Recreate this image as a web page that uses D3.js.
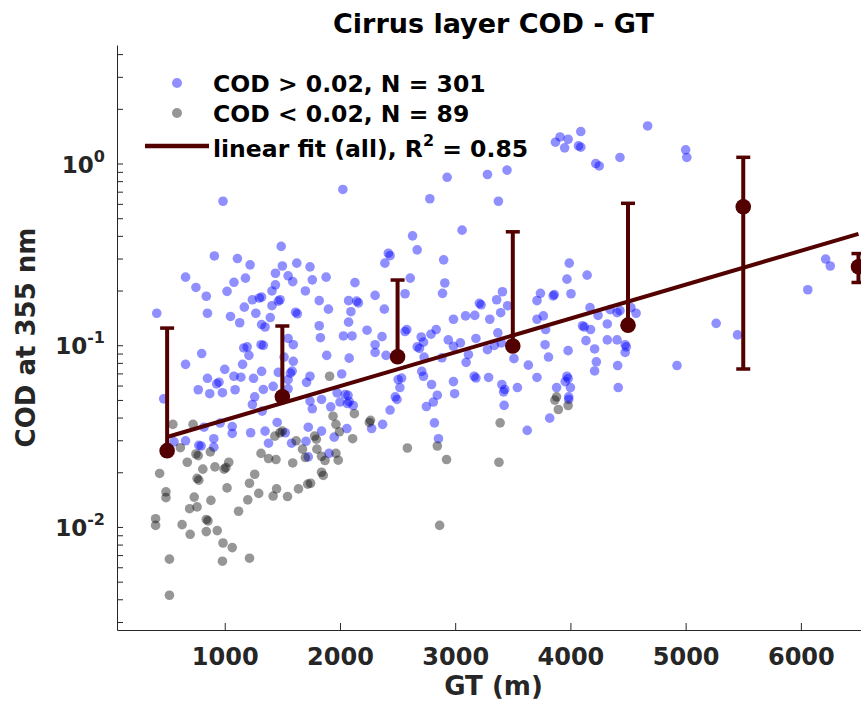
<!DOCTYPE html>
<html>
<head>
<meta charset="utf-8">
<script src="https://cdn.jsdelivr.net/npm/d3@7"></script>
<style>
  body { margin: 0; background: #fff; }
  svg { display: block; }
  text { font-family: "DejaVu Sans", sans-serif; font-weight: bold; }
</style>
</head>
<body>
<svg id="chart" width="861" height="701"></svg>
<script>
// Cloud optical depth vs. geometric thickness, cirrus layers
// [GT (m), COD at 355 nm]
const highPoints = [
  [985,0.62],[2025,0.72],[2930,0.84],[3280,0.87],[2780,0.64],[3375,0.62],[2630,0.40],[3060,0.43],[3450,0.92],
  [3870,1.31],[3910,1.40],[3980,1.36],[4090,1.50],[3950,1.22],[4070,1.25],[4090,1.23],[4220,1.00],[4250,0.97],
  [4430,1.08],[4670,1.61],[5000,1.19],[5010,1.08],
  [910,0.31],[1110,0.30],[1220,0.277],[660,0.237],[750,0.208],[1080,0.222],[1180,0.234],[840,0.186],[1020,0.198],
  [1240,0.178],[1300,0.182],[1170,0.162],[410,0.150],[850,0.150],[1050,0.144],[1130,0.133],[1270,0.150],[1320,0.130],
  [800,0.090],[1165,0.0966],[1195,0.098],[1210,0.088],[660,0.0785],[1155,0.0785],[1315,0.1007],[1000,0.0737],
  [850,0.0658],[1080,0.0675],[1140,0.0667],[1250,0.0658],[930,0.0613],[950,0.0626],[770,0.0569],[870,0.0541],
  [980,0.0548],[1090,0.0569],[1260,0.052],[470,0.0507],
  [1490,0.350],[2420,0.321],[2435,0.311],[2390,0.283],[1625,0.283],[1500,0.273],[1740,0.270],[1440,0.249],[1550,0.241],
  [1590,0.224],[1760,0.229],[1880,0.237],[1440,0.215],[1410,0.199],[1700,0.199],[2130,0.221],[1320,0.184],[1480,0.178],
  [1465,0.175],[1410,0.165],[1820,0.176],[2075,0.176],[2145,0.175],[2160,0.171],[2305,0.188],[1615,0.152],[1630,0.149],
  [1900,0.158],[2095,0.153],[2385,0.158],[1395,0.142],[1350,0.126],[1820,0.128],[2075,0.134],[2235,0.121],[2030,0.1125],
  [2105,0.1125],[1830,0.110],[1550,0.109],[1595,0.1007],[1335,0.0998],[2365,0.1115],[2305,0.1007],[2305,0.0913],
  [1885,0.0879],[2080,0.0849],[2565,0.119],[2400,0.0879],[1515,0.0861],[1595,0.0816],[1465,0.0709],[1570,0.0702],
  [1585,0.072],[1550,0.0647],[1740,0.0675],[1710,0.0625],[2015,0.0695],[1420,0.0594],[1335,0.0571],[1550,0.0576],
  [2505,0.0647],[2520,0.0585],[2480,0.052],[1975,0.0547],[2045,0.0536],[2070,0.053],[1320,0.0718],
  [2670,0.335],[2900,0.295],[2910,0.220],[2890,0.193],[2565,0.192],[2610,0.234],[3210,0.170],[3225,0.167],[3360,0.178],
  [3410,0.197],[3455,0.165],[3710,0.176],[3740,0.193],[3850,0.187],[3860,0.19],[2985,0.139],[3090,0.145],[3170,0.146],
  [3300,0.139],[3395,0.151],[3710,0.139],[3765,0.145],[3785,0.122],[2580,0.122],[2835,0.122],[2790,0.115],[2705,0.111],
  [2725,0.104],[2670,0.098],[2690,0.096],[2940,0.107],[2985,0.0987],[3045,0.103],[3180,0.109],[3370,0.117],[3280,0.0945],
  [3340,0.0998],[3400,0.103],[3115,0.0888],[3095,0.0805],[2885,0.0853],[2730,0.0861],[3780,0.1007],[3810,0.0861],
  [3510,0.0844],[3635,0.0777],[3710,0.0665],[2535,0.066],[2725,0.0675],[2710,0.0718],[2795,0.0608],[2985,0.0631],
  [3165,0.0675],[3180,0.066],[3290,0.0665],[3405,0.0608],[3420,0.0554],[3430,0.0571],[3540,0.0585],[2995,0.0541],
  [2845,0.0531],[3880,0.0585],
  [3990,0.283],[3970,0.231],[4145,0.243],[4005,0.192],[4170,0.161],[4240,0.146],[4345,0.157],[4405,0.151],[4430,0.155],
  [4525,0.161],[4570,0.150],[4105,0.128],[4120,0.126],[4175,0.122],[4320,0.131],[4135,0.106],[4320,0.107],[4405,0.107],
  [4475,0.1007],[4485,0.098],[4475,0.0913],[3980,0.0934],[4210,0.0954],[4225,0.0811],[4210,0.0722],[4410,0.0773],
  [4415,0.0585],[4925,0.0773],[5265,0.132],[5450,0.114],[6060,0.202],[6215,0.298],[6255,0.273],[3970,0.0675],
  [3980,0.0655],[3955,0.0631],[4000,0.0585],[3985,0.052],
  [560,0.0294],[660,0.0298],[775,0.0281],[795,0.0279],[820,0.0354],[905,0.0306],[905,0.0275],[960,0.0373],[1065,0.0357],
  [1065,0.0327],[1225,0.033],[1240,0.0472],[1325,0.0434],
  [1740,0.0493],[1840,0.0503],[1760,0.0447],[1920,0.0458],[2000,0.0487],[2065,0.0478],[2080,0.049],[2115,0.0466],
  [2495,0.0503],[2435,0.044],[1455,0.0376],[1350,0.0337],[1525,0.033],[1725,0.0354],[1840,0.0337],[2060,0.0348],
  [2275,0.0348],[2370,0.0367],[1380,0.0289],[1580,0.0289],[1705,0.0296],[1950,0.0312],[1905,0.0254],[1725,0.0243],
  [2750,0.046],[2810,0.0487],[3425,0.0467],[2820,0.0374],[2855,0.0306],[3625,0.034],[3820,0.0397],[3985,0.0503]
];

const lowPoints = [
  [550,0.0367],[725,0.0367],[615,0.0273],[750,0.0252],[770,0.0247],[675,0.0227],[435,0.0197],[810,0.0208],[760,0.0185],
  [775,0.0181],[915,0.0214],[995,0.0208],[1010,0.0212],[1035,0.0227],[1020,0.0164],[875,0.0259],[1260,0.0195],
  [1215,0.0174],[1295,0.0153],[490,0.0156],[490,0.0145],[735,0.0146],[880,0.014],[695,0.0126],[760,0.0129],
  [1200,0.0141],[1120,0.0122],[400,0.0111],[400,0.0102],[630,0.0103],[840,0.011],[855,0.0108],[935,0.00955],
  [840,0.00943],[700,0.00911],[985,0.00816],[1065,0.0077],[520,0.00665],[980,0.00648],[1215,0.00673],[520,0.00421],
  [1315,0.0254],
  [1940,0.0407],[2125,0.042],[1965,0.0367],[1995,0.0334],[2255,0.0376],[2265,0.0386],[2110,0.0306],[1480,0.033],
  [1500,0.0337],[1435,0.0316],[1780,0.0316],[1795,0.0304],[1620,0.0298],[1675,0.0268],[1800,0.0268],[1700,0.0241],
  [1840,0.0245],[1870,0.0232],[1965,0.0254],[1985,0.0233],[1380,0.0238],[1445,0.0235],[1590,0.0225],[1840,0.02],
  [1855,0.0192],[1420,0.0148],[1450,0.0162],[1545,0.0147],[1640,0.0162],[1720,0.0172],[1745,0.0174],[2585,0.0272],
  [1910,0.0675],
  [2845,0.0279],[2925,0.0235],[3390,0.0374],[3380,0.0227],[2865,0.0102],[3895,0.0443],[3980,0.0466],[3865,0.0499],
  [3880,0.052]
];

// Binned statistics (1000 m bins): mean and standard deviation of COD
const binCenters = [500, 1500, 2500, 3500, 4500, 5500, 6500];
const binMeans   = [0.0263, 0.0521, 0.0865, 0.099, 0.129, 0.578, 0.2705];
const binStds    = [0.098, 0.0755, 0.142, 0.322, 0.475, 0.504, 0.049];

// Linear fit of log10(COD) against GT
const fitIntercept = -1.598;
const fitSlope = 1.863e-4;
const fitRange = [500, 6500];

const xTicks = [1000, 2000, 3000, 4000, 5000, 6000];
const yMajorExps = [-2, -1, 0];

const legendLabels = ["COD > 0.02, N = 301", "COD < 0.02, N = 89", "linear fit (all), R"];

const titleText = "Cirrus layer COD - GT";
const xLabelText = "GT (m)";
const yLabelText = "COD at 355 nm";

// ---- layout ----
const W = 861, H = 701;
const plotL = 117, plotR = 870, plotT = 45, plotB = 630;
const axisColor = "#262626";
const fitColor = "#520000";

const svg = d3.select("#chart");

const x = d3.scaleLinear().domain([65, 6600]).range([plotL, plotR]);
const y = d3.scaleLog().domain([0.00271, 4.49]).range([plotB, plotT]);

svg.append("defs").append("clipPath").attr("id", "plotClip")
  .append("rect").attr("x", plotL).attr("y", plotT)
  .attr("width", plotR - plotL).attr("height", plotB - plotT);

const plot = svg.append("g").attr("clip-path", "url(#plotClip)");

// scatter
plot.append("g").selectAll("circle").data(highPoints).join("circle")
  .attr("cx", d => x(d[0])).attr("cy", d => y(d[1])).attr("r", 4.8)
  .attr("fill", "#0000ff").attr("fill-opacity", 0.44);

plot.append("g").selectAll("circle").data(lowPoints).join("circle")
  .attr("cx", d => x(d[0])).attr("cy", d => y(d[1])).attr("r", 4.8)
  .attr("fill", "#000000").attr("fill-opacity", 0.41);

// fit line
const fitLine = d3.line().x(d => x(d)).y(d => y(Math.pow(10, fitIntercept + fitSlope * d)));
plot.append("path").datum(fitRange).attr("d", fitLine)
  .attr("fill", "none").attr("stroke", fitColor).attr("stroke-width", 4);

// error bars
const eb = plot.append("g").selectAll("g").data(binCenters.map((c, i) => ({
  c, m: binMeans[i], s: binStds[i]
}))).join("g");
const capHalf = 7;
eb.append("line")
  .attr("x1", d => x(d.c)).attr("x2", d => x(d.c))
  .attr("y1", d => y(d.m + d.s))
  .attr("y2", d => d.m - d.s > 0 ? y(d.m - d.s) : y(d.m))
  .attr("stroke", fitColor).attr("stroke-width", 4);
eb.append("line")
  .attr("x1", d => x(d.c) - capHalf).attr("x2", d => x(d.c) + capHalf)
  .attr("y1", d => y(d.m + d.s)).attr("y2", d => y(d.m + d.s))
  .attr("stroke", fitColor).attr("stroke-width", 3.5);
eb.filter(d => d.m - d.s > 0).append("line")
  .attr("x1", d => x(d.c) - capHalf).attr("x2", d => x(d.c) + capHalf)
  .attr("y1", d => y(d.m - d.s)).attr("y2", d => y(d.m - d.s))
  .attr("stroke", fitColor).attr("stroke-width", 3.5);
eb.append("circle")
  .attr("cx", d => x(d.c)).attr("cy", d => y(d.m)).attr("r", 7.8)
  .attr("fill", fitColor);

// ---- axes ----
const xAxis = d3.axisBottom(x).tickValues(xTicks).tickSizeInner(-7).tickSizeOuter(0)
  .tickPadding(18).tickFormat(d3.format("d"));
const gx = svg.append("g").attr("transform", `translate(0,${plotB})`).call(xAxis);
gx.select(".domain").attr("stroke", axisColor);
gx.selectAll(".tick line").attr("stroke", axisColor);
gx.selectAll(".tick text").attr("fill", axisColor).style("font-size", "24px")
  .style("font-family", '"DejaVu Sans", sans-serif').style("font-weight", "bold");

const yTickVals = [];
for (let e = -3; e <= 0; e++) {
  for (let k = 1; k <= 9; k++) {
    const v = k * Math.pow(10, e);
    if (v >= y.domain()[0] && v <= y.domain()[1]) yTickVals.push(v);
  }
}
const yAxis = d3.axisLeft(y).tickValues(yTickVals).tickSizeInner(-6).tickSizeOuter(0).tickFormat("");
const gy = svg.append("g").attr("transform", `translate(${plotL},0)`).call(yAxis);
gy.select(".domain").attr("stroke", axisColor);
gy.selectAll(".tick line").attr("stroke", axisColor);

const yLab = svg.append("g").selectAll("text").data(yMajorExps).join("text")
  .attr("x", 105).attr("y", d => y(Math.pow(10, d)) + 9)
  .attr("text-anchor", "end").attr("fill", axisColor).style("font-size", "23px");
yLab.append("tspan").text("10");
yLab.append("tspan").attr("dy", -11).style("font-size", "16px").text(d => String(d));

// ---- labels ----
svg.append("text").attr("x", (plotL + plotR) / 2).attr("y", 33)
  .attr("text-anchor", "middle").attr("fill", "#000").style("font-size", "27px").text(titleText);

svg.append("text").attr("x", (plotL + plotR) / 2).attr("y", 695)
  .attr("text-anchor", "middle").attr("fill", axisColor).style("font-size", "26px").text(xLabelText);

svg.append("text").attr("transform", `translate(35,${(plotT + plotB) / 2}) rotate(-90)`)
  .attr("text-anchor", "middle").attr("fill", axisColor).style("font-size", "26px").text(yLabelText);

// ---- legend ----
const lg = svg.append("g");
lg.append("circle").attr("cx", 177).attr("cy", 83).attr("r", 5)
  .attr("fill", "#0000ff").attr("fill-opacity", 0.44);
lg.append("circle").attr("cx", 177).attr("cy", 113).attr("r", 5)
  .attr("fill", "#000").attr("fill-opacity", 0.41);
lg.append("line").attr("x1", 145).attr("x2", 209).attr("y1", 146).attr("y2", 146)
  .attr("stroke", fitColor).attr("stroke-width", 4.5);

lg.append("text").attr("x", 213).attr("y", 92).style("font-size", "23.5px").attr("fill", "#000").text(legendLabels[0]);
lg.append("text").attr("x", 213).attr("y", 121.5).style("font-size", "23.5px").attr("fill", "#000").text(legendLabels[1]);
const l3 = lg.append("text").attr("x", 213).attr("y", 156.5).style("font-size", "23.5px").attr("fill", "#000");
l3.append("tspan").text(legendLabels[2]);
l3.append("tspan").attr("dy", -11).style("font-size", "16px").text("2");
l3.append("tspan").attr("dy", 11).text(" = 0.85");
</script>
</body>
</html>
